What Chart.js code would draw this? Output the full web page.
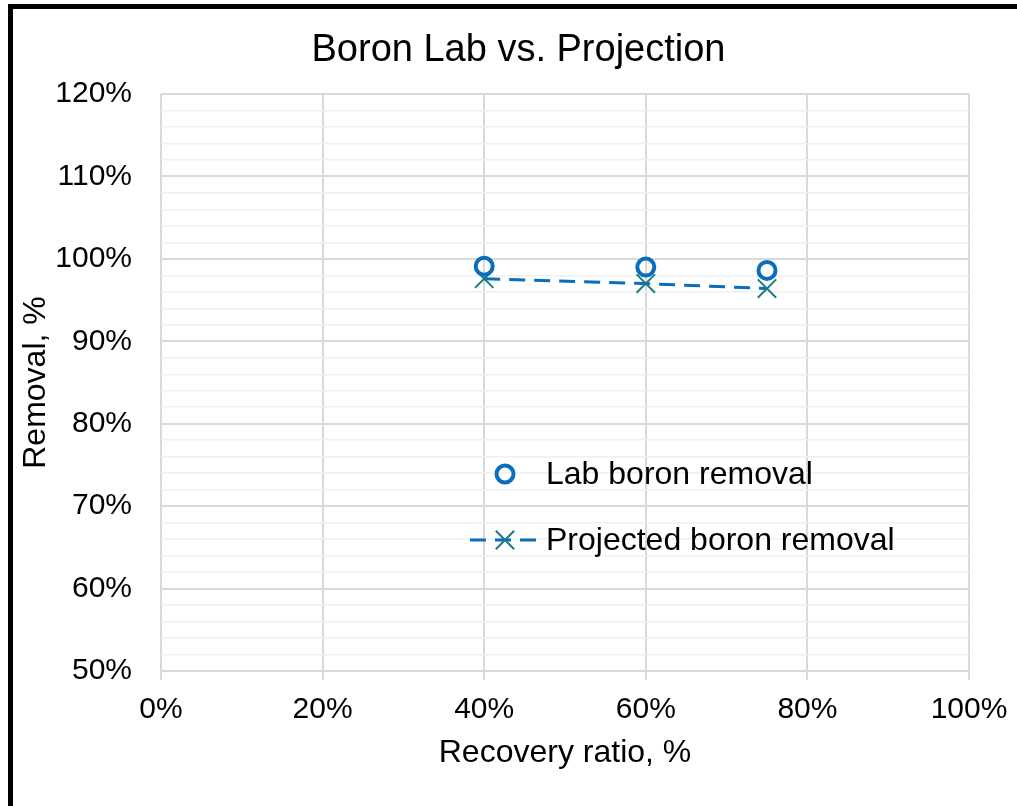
<!DOCTYPE html>
<html>
<head>
<meta charset="utf-8">
<script src="https://cdn.jsdelivr.net/npm/chart.js@4.4.1/dist/chart.umd.min.js"></script>
<style>
  html, body { margin: 0; padding: 0; background: #fff; overflow: hidden; }
  #frame {
    position: absolute; left: 8px; top: 4px; width: 1200px; height: 1000px;
    border-left: 5px solid #000; border-top: 5px solid #000;
  }
  #chart { position: absolute; left: 0; top: 0; }
</style>
</head>
<body>
<div id="frame"></div>
<canvas id="chart" width="1017" height="806"></canvas>
<script>
const recovery = [40, 60, 75];
const labRemoval = [99.1, 99.0, 98.6];
const projectedRemoval = [97.6, 97.0, 96.4];
const seriesNames = ['Lab boron removal', 'Projected boron removal'];
const xTickValues = [0, 20, 40, 60, 80, 100];
const yTickValues = [50, 60, 70, 80, 90, 100, 110, 120];

const BLUE = '#0A6EBD';
const TEAL = '#1B7B85';

document.addEventListener('DOMContentLoaded', () => {
  Chart.defaults.font.family = '"Liberation Sans", Arial, sans-serif';
  Chart.defaults.color = '#000';

  // legend drawn inside the plot area, Excel style
  const insideLegend = {
    id: 'insideLegend',
    afterDatasetsDraw(chart) {
      const ctx = chart.ctx;
      const rows = [474, 540];
      chart.data.datasets.forEach((ds, i) => {
        const y = rows[i];
        ctx.save();
        if (ds.showLine) {
          ctx.strokeStyle = ds.borderColor;
          ctx.lineWidth = ds.borderWidth;
          ctx.setLineDash(ds.borderDash || []);
          ctx.beginPath();
          ctx.moveTo(470, y);
          ctx.lineTo(538, y);
          ctx.stroke();
          ctx.setLineDash([]);
        }
        ctx.strokeStyle = ds.pointBorderColor;
        ctx.fillStyle = 'rgba(0,0,0,0)';
        ctx.lineWidth = ds.pointBorderWidth;
        Chart.helpers.drawPoint(ctx, {
          pointStyle: ds.pointStyle, rotation: 0, radius: ds.pointRadius,
          borderWidth: ds.pointBorderWidth
        }, 505, y);
        ctx.fillStyle = '#000';
        ctx.font = '32px "Liberation Sans", Arial, sans-serif';
        ctx.textBaseline = 'middle';
        ctx.textAlign = 'left';
        ctx.fillText(ds.label, 546, y + 1);
        ctx.restore();
      });
    }
  };

  new Chart(document.getElementById('chart'), {
    type: 'scatter',
    data: {
      datasets: [{
        label: seriesNames[0],
        data: recovery.map((x, i) => ({ x, y: labRemoval[i] })),
        showLine: false,
        pointStyle: 'circle',
        pointRadius: 8.5,
        pointHoverRadius: 8.5,
        pointBorderWidth: 4,
        pointBorderColor: BLUE,
        pointBackgroundColor: 'rgba(0,0,0,0)'
      }, {
        label: seriesNames[1],
        data: recovery.map((x, i) => ({ x, y: projectedRemoval[i] })),
        showLine: true,
        borderColor: BLUE,
        borderWidth: 3,
        borderDash: [16, 9],
        pointStyle: 'crossRot',
        pointRadius: 13,
        pointHoverRadius: 13,
        pointBorderWidth: 2,
        pointBorderColor: TEAL,
        pointBackgroundColor: TEAL
      }]
    },
    options: {
      responsive: false,
      animation: false,
      events: [],
      layout: { padding: { left: 20, right: 0, top: 0, bottom: 0 } },
      plugins: {
        legend: { display: false },
        tooltip: { enabled: false },
        title: {
          display: true,
          text: 'Boron Lab vs. Projection',
          color: '#000',
          font: { size: 38, weight: 'normal' },
          padding: { top: 28, bottom: 20.4 }
        }
      },
      scales: {
        x: {
          type: 'linear',
          min: 0, max: 100,
          afterFit: s => { s.height = 135; s.paddingRight = 48; },
          afterBuildTicks: s => { s.ticks = xTickValues.map(v => ({ value: v })); },
          ticks: {
            font: { size: 30 },
            padding: 12,
            maxRotation: 0,
            autoSkip: false,
            callback: v => v + '%'
          },
          grid: { color: '#d9d9d9', lineWidth: 2, drawTicks: true, tickLength: 9, tickColor: '#d9d9d9' },
          border: { display: false },
          title: {
            display: true,
            text: 'Recovery ratio, %',
            font: { size: 32 },
            padding: { top: 0, bottom: 34 }
          }
        },
        y: {
          type: 'linear',
          min: 50, max: 120,
          afterFit: s => { s.width = 141; },
          afterBuildTicks: s => {
            const t = [];
            for (let v = 50; v <= 120; v += 2) t.push({ value: v });
            s.ticks = t;
          },
          ticks: {
            font: { size: 30 },
            padding: 29,
            autoSkip: false,
            callback: v => yTickValues.includes(v) ? v + '%' : ''
          },
          grid: {
            drawTicks: false,
            color: c => yTickValues.includes(c.tick.value) ? '#d9d9d9' : '#f0f0f0',
            lineWidth: c => yTickValues.includes(c.tick.value) ? 2 : 1.5
          },
          border: { display: false },
          title: {
            display: true,
            text: 'Removal, %',
            font: { size: 32 },
            padding: { top: -3, bottom: 0 }
          }
        }
      }
    },
    plugins: [insideLegend]
  });
});
</script>
</body>
</html>
